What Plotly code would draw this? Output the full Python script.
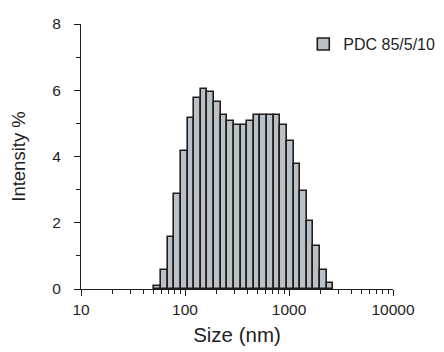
import math
import plotly.graph_objects as go

# Bin edges (nm) of the size distribution (left edges + final right edge)
bin_edges = [50.75, 58.77, 68.06, 78.82, 91.28, 105.7, 122.4, 141.8, 164.2, 190.1,
             220.2, 255.0, 295.3, 342.0, 396.1, 458.7, 531.2, 615.1, 712.4, 825.0,
             955.4, 1106, 1281, 1484, 1718, 1990, 2305, 2669]
# Intensity % per bin
intensity = [0.08, 0.57, 1.58, 2.88, 4.16, 5.16, 5.76, 6.04, 5.94, 5.64,
             5.24, 5.06, 4.96, 4.96, 5.06, 5.26, 5.26, 5.26, 5.26, 4.96,
             4.47, 3.77, 2.96, 2.06, 1.30, 0.57, 0.19]
series_name = "PDC 85/5/10"

x_range_nm = [10, 10000]
x_major = [10, 100, 1000, 10000]
x_major_text = ["10", "100", "1000", "10000"]
x_minor = [m * d for d in [10, 100, 1000] for m in range(2, 10)]
y_major = [0, 2, 4, 6, 8]

# log10 size scale (axis is linear in decades)
log_lo = [math.log10(v) for v in bin_edges[:-1]]
log_hi = [math.log10(v) for v in bin_edges[1:]]
centers = [(a + b) / 2 for a, b in zip(log_lo, log_hi)]
widths = [b - a for a, b in zip(log_lo, log_hi)]

font_family = "Liberation Sans, Arial, sans-serif"
ink = "#1e1e1e"

fig = go.Figure()
fig.add_trace(go.Bar(
    x=centers, y=intensity, width=widths, name=series_name,
    marker=dict(color="#b9c1c7", line=dict(color=ink, width=1.6)),
    showlegend=True,
))

fig.update_layout(
    width=444, height=352,
    margin=dict(l=73, r=51, t=16, b=71),
    paper_bgcolor="white", plot_bgcolor="white",
    font=dict(family=font_family, color=ink, size=15.5),
    bargap=0,
    xaxis=dict(
        range=[math.log10(v) for v in x_range_nm],
        tickvals=[math.log10(v) for v in x_major], ticktext=x_major_text,
        ticks="outside", ticklen=6, tickwidth=1.3, tickcolor=ink,
        showline=True, linecolor=ink, linewidth=1.3,
        showgrid=False, zeroline=False, automargin=False,
        minor=dict(tickvals=[math.log10(v) for v in x_minor], ticks="outside",
                   ticklen=3.5, tickwidth=1.2, tickcolor=ink, showgrid=False),
        title=dict(text="Size (nm)", font=dict(size=20.5), standoff=10),
        tickfont=dict(size=15.5),
        layer="above traces",
    ),
    yaxis=dict(
        range=[0, 8], tickvals=y_major,
        ticks="outside", ticklen=6, tickwidth=1.3, tickcolor=ink,
        showline=True, linecolor=ink, linewidth=1.3,
        showgrid=False, zeroline=False, automargin=False,
        minor=dict(dtick=1, ticks="outside", ticklen=3.5, tickwidth=1.2, tickcolor=ink, showgrid=False),
        title=dict(text="Intensity %", font=dict(size=18.5), standoff=25),
        tickfont=dict(size=15.5),
        ticklabelstandoff=10,
    ),
    legend=dict(
        x=0.7125, y=0.924, xanchor="left", yanchor="middle",
        bgcolor="rgba(0,0,0,0)", font=dict(size=16),
    ),
)

fig.write_html("out.html")
